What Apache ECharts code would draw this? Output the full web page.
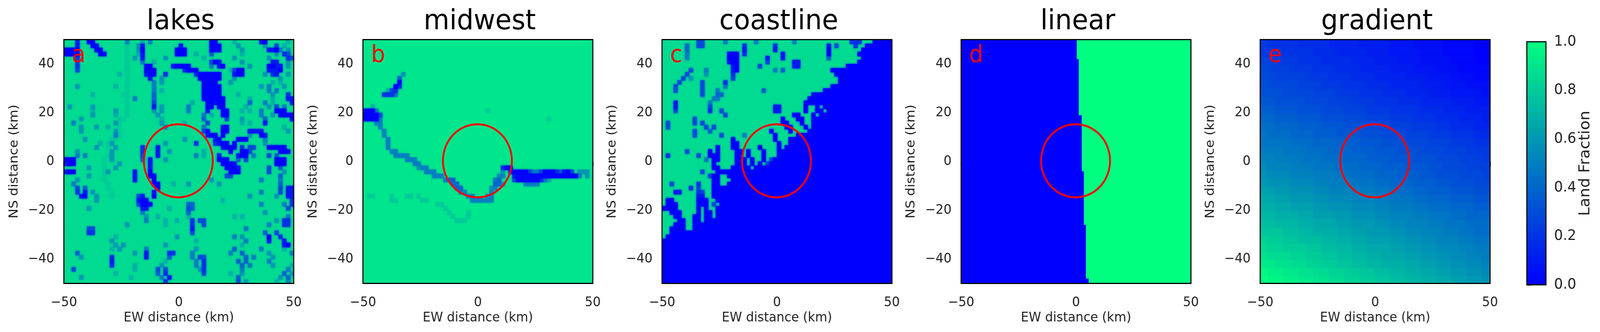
<!DOCTYPE html>
<html>
<head>
<meta charset="utf-8">
<style>html,body{margin:0;background:#fff;overflow:hidden}#main{width:4351px;height:851px;transform-origin:0 0}</style>
<script src="https://cdn.jsdelivr.net/npm/echarts@6/dist/echarts.min.js"></script>
</head>
<body>
<div id="main"></div>
<script>
var panelNames = ['lakes', 'midwest', 'coastline', 'linear', 'gradient'];
var panelLetters = ['a', 'b', 'c', 'd', 'e'];
var xTicks = [-50, 0, 50];
var yTicks = [-40, -20, 0, 20, 40];
var barTicks = [0, 0.2, 0.4, 0.6, 0.8, 1];
var circle = [-0.2, 0.3, 15];   // centre x, centre y, radius in km
var letterAt = [-46.5, 38.5];

// land fraction: 60 x 60 cells from the top left corner,
// digit = tenths, '.' = the panel's land value, spaces only to help counting
var lakesLand = 0.86;
var lakesRows = [
"...1..00.. ......5... 7.5....... ........00 ....7..... .10.....7.",
"...1...00. ......8..6 1......... 1.......00 0....6.... ..6..3.7..",
"0000....00 ......8..6 0........0 00......00 0.....6... ...1105.6.",
"0000.....0 0.....8..7 1........0 00..7...4. ......7... .....6.23.",
"...2...... ......8.6. 1.....6... ......7... ....6..... ...6....23",
"...2...... ......8... 5..7...... ........30 1.....6... ....11..6.",
"...2...... ......8... .00.....10 000.....5. 10......6. ...0011.6.",
"...3...... ......8... .000...... .2000..... ...7300... ...1110...",
".......... ....7.8... .100..2... ....200000 0...100... ..6.21..6.",
".......... ......8... ..1..6.... .....00000 0...6..... ......6...",
".......... ......8... ...5.6.... ......0000 ...6...... ....7.7...",
"...6...... ...7..8... ...5...... ......0000 0......... .6.5...6..",
".......... ......8... ...5.7.... ......0000 0......... ...5.5....",
".......7.. .....88... ...4...... ......0000 0....7.... ....6...2.",
".......... ......8.5. ...4...... ......0000 00......7. ....7...11",
".......... ......8... ...3...... ...7...001 00......4. ..5.7....1",
".6.....6.. ......8... ...1.6.... ..5....00. 00.....7.. ...6.3.5..",
".......7.. ...6..8... ...6.6.... ..5....1.. .00...7.7. .5...000..",
".......6.. ...7..8... ....6..... ......5.7. .00....... .5..6.0000",
"....6..... ....88.... .....7.... ......4... ..3...6... ..4......0",
"..5....... ...68..... .....6.... .7.....3.. ......7.7. ..1.......",
"....6...6. .7..8..... ......5... ......5... .10....... .......7..",
"....6..... ...68..... .......... ......30.. .00.....11 11......6.",
".......... ...58..... .......... .......100 .0......6. .01.......",
".....6.... ..88...... .......... .6.......1 0....000.. ..5.......",
".........7 .86....... ......6... ....2....2 100.0..... ..6.......",
"........6. .8.6...... 2...1..... .......... .1000.2.33 ...00000..",
"...6...... ..6....... 2...1..6.. ......7... ...0..003. ......000.",
"...5.5.... .86....... 3...1..... ....5.7... 1....100.5 ...3.4....",
"000....... 8.6....... 4.1...6... .......... 000..4.3.. .....000..",
"100....... 8...6..... ..1....... .......... .0001..... .....000..",
"......6... 8..6...... ..1....... .......... ..0001.... ...3..4...",
"100....... 86......1. ..0....... .......... ...000.... ...3...6..",
"......6... 8.......1. ..00...... .......... ..33...... ......4...",
"...6...... 8.......1. ...0...... ........6. .......... .5....5...",
"..5....... .8........ ...00...7. ..6....... 6......... ......4...",
"...3.4.... .8........ ....0..... .......... .......... ......3.11",
"...2.1.6.. ..8....... ...1...... .......... .......... .5....3.11",
"....10..6. ..8......3 1..0...... .......... ........6. .....6..11",
"........6. .........1 00........ .......... .7........ .........2",
".......... .........3 000....... ..44...... .......... .5.....5.2",
"......6... .......... 11.....7.. ..34...... .......... ........3.",
".......... .......... 5......... ..4....... .......... ..6.......",
".......... .......... .6..7..... ..7....... ....7.7... ........5.",
".......... .......... .5....7..7 ...2.33... .......... .....6.22.",
".......... ......6... ......7... ...2..3... .......... ...5...22.",
"......33.. .......... .......... ...1...... .......5.. ..........",
"......22.. .......... .......... ...3...... .......... ..4..3....",
".......... ...7...... .........6 .......... ....5.6... ...0..2...",
".......... ..6....... .......... ....7..... .......5.. ...1...1..",
".......... ...6.6.... ......6... .......... ......7... .......10.",
".......... ..7.6..... .5........ ....6..... ....4..... .5.....7..",
"...4...... ........6. .1.....22. ...5...... ...5..4... ...6.....5",
"....6..... ..2....... .1.....4.. ...5.33... .......4.5 ....6.....",
".......... ..1....... ......7... ....5.2... .....4.4.. ...5......",
".......... ..2.....7. .....6.... ....5.2... ......4.5. ....6....7",
"..3....... ........7. ....3.3... .....62... ......5... ........5.",
".......... ...7...... ....4.2... ......3... ...7..6... .......4.6",
"....6..... .......7.. .....5.1.. .......... .....4.... ......6.4.",
".......... .......... ......2... .......... .....3.6.. .....7..5."
];

var midwestLand = 0.9;
var midwestRows = [
"", "", "", "", "", "", "", "",
".......... 6",
".........4",
".........0",
"........02",
"......732",
".....2225",
"",
"",
"..7",
"0005 .......... .......... ........8.",
"00003",
"00005 .......... .......... .......... .......... ...8",
"...55",
"....5",
".....5",
".....5",
"......5",
"......5",
"......5",
".......55",
"........55 55",
".......... .555",
".......... ...55",
".......... ....655 .......... .........2 00",
".......... ......555 .......... .......6.1 0000355300 024103.666",
".......... ........55 5......... .....65..1 0000000000 0000005.6.",
".......... .......... .544...... ....54...3 000000257.",
".......... .......... ...44..... ....446... ..5555....",
".......... .......... ....44.... ...65.....",
".......... .......... .....55... ...5......",
".88....8.. .88.8..... .......55. ..55......",
".......88. .....88... ........55 5555......",
".......... .........8 8.........",
".......... .......... .8........",
".......... .......... ..8....8..",
".......... .......... ...8...8..",
".......... .......... ....888..."
];

// coastline rows stop at the shore: everything right of a row is open water
var coastLand = 0.86;
var coastRows = [
".........3 3.....5... ....5..... ....5..... .........2 22...",
"......4..3 3......... .2.......2 .......... ...1.3.... 2..",
"......4... .......... .1.......1 .......... ...0...... ..",
"......5... .......000 .2........ .1........ ...0...... .",
"......5... .......000 .......1.. .1........ ...4...... ..",
".......... .......100 .......3.. ....11.... .......... .",
".......... ........10 .....3.... ....11.... ........",
".......3.. .5......10 .........5 .4........ ....",
"......3... .6......2. .......... .......... .....",
".....3.6.. ........3. .......... .......... ......",
"....3..... 3.....2... .......... .......... ......",
"...3...... 3.....5... .......... .......... ....",
"...3...... 3...5..... ......4... .......... ..",
".......... 3...44.... .......... .........",
".......... ...55..... .......... ........",
"...1...... ..5....... .......... .......",
"...1...... ..3....... .........1 1......0.. 0.",
"...3...... ..2..3.... .........1 1......0.. 00.",
".......... ......3... .......... ....00...0 .",
"........3. .......... .......... .0...00..0",
".3......3. 3......... .......... .00...0..",
".3........ .3.3...... .......... ..00...0.",
"........3. ..4....... ........0. ...0....",
"........3. .....3.... .5.......0 .....",
".......... ........0. .........0 ...",
".......... ........00 .......... 0..",
".......... ....0...00 .....0.... 0.",
"......3... ..0.0....0 0.0...0...",
".2.......3 ..000....0 0.0...0...",
".......... .5.00....0 00.0..0.3",
".......... ...0.....0 00.0.0.3",
".......... ...00...00 000.",
".......... 3...",
".......... ..300..",
".......... ...00...",
"..3......2 ...00..",
".......2.3 ...",
"...11....2 3..",
".........1 1..",
".00......0 00..",
".000.....0 00.3.",
"0000.....0 .0..",
"..000....0 .00.",
"...00...00 .00.",
"....00..00 .",
"...000..00",
"..0000..",
"..",
"."
];

// step edge of the linear panel: edge x (km) for each band between edge y values
var linearEdgeX = [0.3, 1.2, 2.5, 3.4, 4.3, 5.5];
var linearEdgeY = [50, 42, 19, -4, -26, -48, -50];

// gradient panel, 30 x 30 cells from the top left corner, base 36 (0 = 0.0, z = 1.0)
var gradientRows = [
"877776666555544443332222111100",
"888777766655554443333222111100",
"998887776666555444333222211100",
"a99988877766655554443332221111",
"aa9999888777666555544433322211",
"baaaa9998887776665555444333222",
"bbbaaaa99988877766655544433332",
"ccbbbbaaa999888777666555544433",
"ddcccbbbaaa9998887777666555444",
"eedddcccbbbaaa9998887776665554",
"ffeeedddcccbbbaaa9998887766655",
"gfffeeedddcccbbbaaa99988877766",
"ggggfffeeedddcccbbbaaa99988877",
"hhhgggfffeeedddcccbbbaaa999888",
"iihhhgggfffeeedddcccbbbaaa9998",
"jiiihhhgggfffeeedddcccbbaaa999",
"kjjjiiihhhggfffeeedddccbbbaaa9",
"lkkkjjjiihhhgggffeeedddccbbbaa",
"mmllkkkjjiiihhhggfffeedddcccbb",
"nnmmlllkkjjjiiihhgggffeeedddcc",
"oonnmmmllkkkjjjiihhhggfffeeedd",
"ppooonnmmmllkkkjjiiihhgggffeee",
"qqpppoonnnmmlllkkjjiiihhgggfff",
"rrrqqppooonnmmlllkkjjiiihhggff",
"tssrrqqqppoonnmmmllkkjjiiihhgg",
"uttsssrrqqppoonnnmmllkkjjjiihh",
"vuuuttssrrqqppoonnnmmllkkjjiih",
"wwvvuuttssrrqqppooonnmmllkkjji",
"yxxwwvvuuttssrrqqppoonnmmllkkj",
"zyyxxwwvvuuttssrrqqppoonnmmllk"
];

var panelLeft = [173.7, 987, 1800.3, 2613.6, 3427];
var panelBlur = [5, 5, 5, 0, 7];
var panelTop = 101.5, panelSize = 625;
var textFont = 'DejaVu Sans';

// rows of characters -> [x0, y0, x1, y1, value] cells in km, runs merged along the row
function gridCells(rows, nCells, pad, read) {
    var cells = [];
    var step = 100 / nCells;
    for (var r = 0; r < nCells; r++) {
        var row = (rows[r] || '').replace(/ /g, '').padEnd(nCells, pad);
        var start = 0;
        for (var c = 1; c <= nCells; c++) {
            if (c === nCells || row[c] !== row[start]) {
                cells.push([-50 + start * step, 50 - (r + 1) * step, -50 + c * step, 50 - r * step, read(row[start])]);
                start = c;
            }
        }
    }
    // high values first, so the low ones (water) stay on top with their soft edge
    cells.sort(function (a, b) { return b[4] - a[4]; });
    return cells;
}

function tenths(land) {
    return function (ch) { return ch === '.' ? land : +ch / 10; };
}

function linearCells() {
    var cells = [];
    for (var i = 0; i < linearEdgeX.length; i++) {
        cells.push([-50, linearEdgeY[i + 1], linearEdgeX[i], linearEdgeY[i], 0]);
        cells.push([linearEdgeX[i], linearEdgeY[i + 1], 50, linearEdgeY[i], 1]);
    }
    return cells;
}

var panelCells = [
    gridCells(lakesRows, 60, '.', tenths(lakesLand)),
    gridCells(midwestRows, 60, '.', tenths(midwestLand)),
    gridCells(coastRows, 60, '0', tenths(coastLand)),
    linearCells(),
    gridCells(gradientRows, 30, '0', function (ch) { return parseInt(ch, 36) / 35; })
];

function cellRenderer(blur) {
    return function (params, api) {
        var a = api.coord([api.value(0), api.value(3)]);
        var b = api.coord([api.value(2), api.value(1)]);
        var color = api.visual('color');
        return {
            type: 'rect',
            shape: { x: a[0], y: a[1], width: b[0] - a[0] + 1, height: b[1] - a[1] + 1 },
            style: { fill: color, shadowBlur: blur, shadowColor: color }
        };
    };
}

function renderCircle(params, api) {
    var c = api.coord([api.value(0), api.value(1)]);
    return {
        type: 'circle',
        shape: { cx: c[0], cy: c[1], r: api.size([api.value(2), 0])[0] },
        style: { fill: 'none', stroke: '#ff0000', lineWidth: 5 }
    };
}

function letterRenderer(letter) {
    return function (params, api) {
        var c = api.coord([api.value(0), api.value(1)]);
        return {
            type: 'text',
            x: c[0],
            y: c[1],
            style: { text: letter, fill: '#ff0000', font: '60px ' + textFont, textAlign: 'left', textVerticalAlign: 'bottom' }
        };
    };
}

function minusLabel(v) {
    return String(v).replace('-', '\u2212');
}

var grids = [], xAxes = [], yAxes = [], series = [], titles = [], cellSeries = [];
panelNames.forEach(function (name, i) {
    titles.push({
        text: name,
        left: panelLeft[i] + panelSize / 2,
        top: 15,
        textAlign: 'center',
        textStyle: { fontFamily: textFont, fontSize: 72, fontWeight: 'normal', color: '#000' }
    });
    grids.push({
        left: panelLeft[i], top: panelTop, width: panelSize, height: panelSize,
        show: true, borderColor: '#000', borderWidth: 3, backgroundColor: 'transparent', z: 5
    });
    xAxes.push({
        gridIndex: i, type: 'value', min: -50, max: 50, interval: 50,
        name: 'EW distance (km)', nameLocation: 'middle', nameGap: 64,
        nameTextStyle: { fontFamily: textFont, fontSize: 34, color: '#222' },
        axisLine: { show: false },
        axisTick: { show: true, length: 13, lineStyle: { color: '#000', width: 3 } },
        axisLabel: { margin: 33, fontFamily: textFont, fontSize: 34, color: '#222', formatter: minusLabel, customValues: xTicks },
        splitLine: { show: false }
    });
    yAxes.push({
        gridIndex: i, type: 'value', min: -50, max: 50,
        name: 'NS distance (km)', nameLocation: 'middle', nameGap: 118,
        nameTextStyle: { fontFamily: textFont, fontSize: 34, color: '#222' },
        axisLine: { show: false },
        axisTick: { show: true, length: 13, lineStyle: { color: '#000', width: 3 }, customValues: yTicks },
        axisLabel: { margin: 26, fontFamily: textFont, fontSize: 34, color: '#222', formatter: minusLabel, customValues: yTicks },
        splitLine: { show: false }
    });
    cellSeries.push(series.length);
    series.push({
        type: 'custom', xAxisIndex: i, yAxisIndex: i, renderItem: cellRenderer(panelBlur[i]), clip: true, silent: true, z: 2,
        dimensions: ['x0', 'y0', 'x1', 'y1', 'land'],
        encode: { x: [0, 2], y: [1, 3] },
        data: panelCells[i]
    });
    series.push({
        type: 'custom', xAxisIndex: i, yAxisIndex: i, renderItem: renderCircle, silent: true, z: 3,
        encode: { x: 0, y: 1 },
        data: [circle]
    });
    series.push({
        type: 'custom', xAxisIndex: i, yAxisIndex: i, renderItem: letterRenderer(panelLetters[i]), silent: true, z: 3,
        encode: { x: 0, y: 1 },
        data: [letterAt]
    });
});

// colour bar: visualMap draws the ramp, an empty grid on top gives the frame and ticks
var barLeft = 4152, barTop = 107, barWidth = 52, barHeight = 623;
grids.push({
    left: barLeft, top: barTop, width: barWidth, height: barHeight,
    show: true, borderColor: '#000', borderWidth: 3, backgroundColor: 'transparent', z: 6
});
xAxes.push({ gridIndex: 5, type: 'value', min: 0, max: 1, show: false });
yAxes.push({
    gridIndex: 5, type: 'value', min: 0, max: 1, position: 'right',
    name: 'Land Fraction', nameLocation: 'middle', nameRotate: 90, nameGap: 88,
    nameTextStyle: { fontFamily: textFont, fontSize: 40, color: '#222' },
    axisLine: { show: false },
    axisTick: { show: true, length: 13, lineStyle: { color: '#000', width: 3 }, customValues: barTicks },
    axisLabel: { margin: 22, fontFamily: textFont, fontSize: 38, color: '#222', customValues: barTicks, formatter: function (v) { return v.toFixed(1); } },
    splitLine: { show: false }
});

// the browser caps its window below the chart's width: squeeze the whole chart in
var main = document.getElementById('main');
main.style.transform = 'scaleX(' + Math.min(1, window.innerWidth / 4351) + ')';

var myChart = echarts.init(main);
myChart.setOption({
    animation: false,
    backgroundColor: '#fff',
    title: titles,
    grid: grids,
    xAxis: xAxes,
    yAxis: yAxes,
    visualMap: {
        type: 'continuous', min: 0, max: 1, dimension: 4, seriesIndex: cellSeries,
        inRange: { color: ['#0000ff', '#00ff80'] },
        left: barLeft, top: barTop, itemWidth: barWidth, itemHeight: barHeight,
        padding: 0, calculable: false, hoverLink: false, text: null, z: 4,
        textStyle: { fontSize: 0 }, showLabel: false
    },
    series: series
});
</script>
</body>
</html>
